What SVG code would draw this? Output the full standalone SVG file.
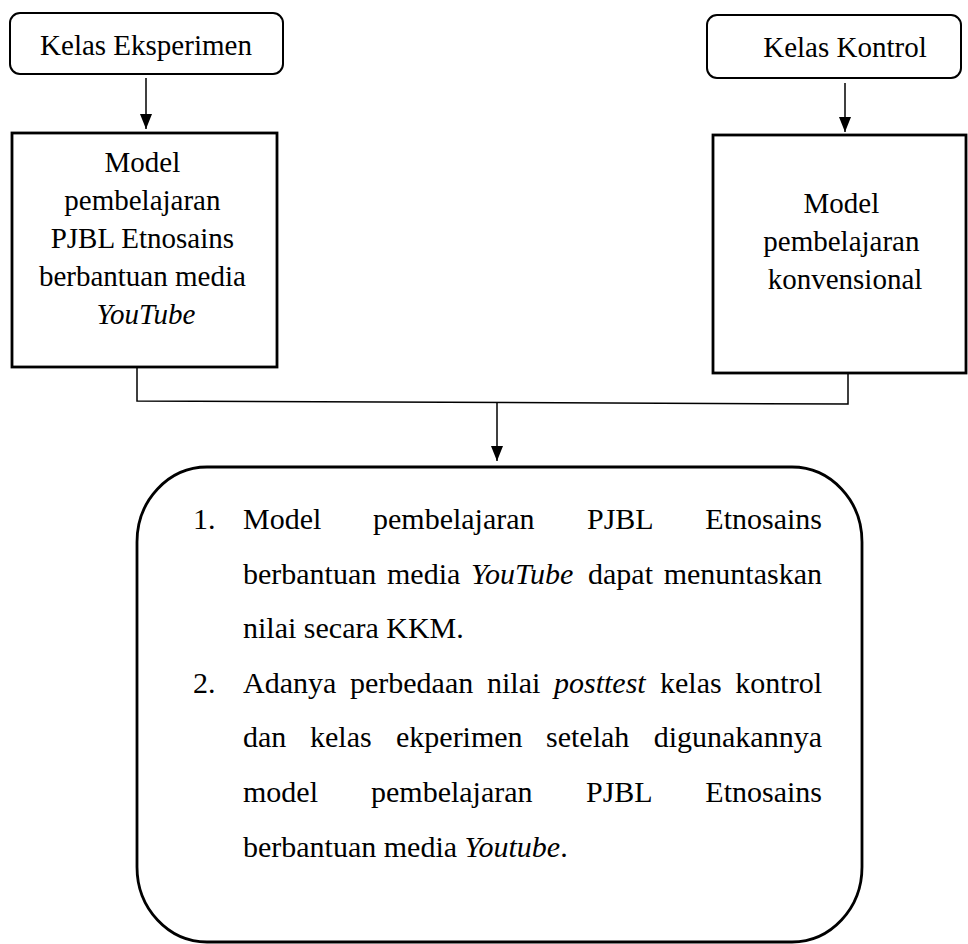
<svg xmlns="http://www.w3.org/2000/svg" width="968" height="944" viewBox="0 0 968 944">
<defs>
<style>
.t{font-family:"Liberation Serif","Times New Roman",serif;font-size:29px;fill:#000}
.b{font-family:"Liberation Serif","Times New Roman",serif;font-size:30px;fill:#000}
.i{font-style:italic}
.rb{fill:#fff;stroke:#000;stroke-width:2}
.sb{fill:#fff;stroke:#000;stroke-width:2.8}
.c{fill:none;stroke:#000;stroke-width:1.5}
</style>
<marker id="ah" viewBox="0 0 15 12" refX="15" refY="6" markerWidth="15" markerHeight="12" markerUnits="userSpaceOnUse" orient="auto">
<path d="M0,0 L15,6 L0,12 Z" fill="#000"/>
</marker>
</defs>
<rect width="968" height="944" fill="#fff"/>
<g id="connectors">
<line class="c" x1="146" y1="78" x2="146" y2="129" marker-end="url(#ah)"/>
<line class="c" x1="845" y1="83" x2="845" y2="132" marker-end="url(#ah)"/>
<path class="c" d="M137,344 L137,401 L848,404 L848,347"/>
<line class="c" x1="497" y1="402" x2="497" y2="461" marker-end="url(#ah)"/>
</g>
<g id="kelas-eksperimen">
<rect class="rb" x="10" y="13" width="273" height="61" rx="10"/>
<text class="t" x="146" y="55" text-anchor="middle">Kelas Eksperimen</text>
</g>
<g id="kelas-kontrol">
<rect class="rb" x="707" y="15" width="254" height="63" rx="10"/>
<text class="t" x="845" y="57" text-anchor="middle">Kelas Kontrol</text>
</g>
<g id="model-pjbl">
<rect class="sb" x="12" y="133" width="265" height="234"/>
<text class="t" text-anchor="middle">
<tspan x="146" y="172">Model</tspan>
<tspan x="146" y="210">pembelajaran</tspan>
<tspan x="146" y="248">PJBL Etnosains</tspan>
<tspan x="146" y="286">berbantuan media</tspan>
<tspan x="146" y="324" class="i">YouTube</tspan>
</text>
</g>
<g id="model-konvensional">
<rect class="sb" x="713" y="135" width="253" height="238"/>
<text class="t" text-anchor="middle">
<tspan x="845" y="213">Model</tspan>
<tspan x="845" y="251">pembelajaran</tspan>
<tspan x="845" y="289">konvensional</tspan>
</text>
</g>
<g id="hasil">
<rect class="sb" x="137" y="467" width="725" height="475" rx="70" ry="75"/>
<text class="b">
<tspan x="193" y="529">1.</tspan>
<tspan x="243" y="529">Model</tspan>
<tspan x="373" y="529">pembelajaran</tspan>
<tspan x="587" y="529">PJBL</tspan>
<tspan x="822" y="529" text-anchor="end">Etnosains</tspan>
</text>
<text class="b">
<tspan x="243" y="584">berbantuan</tspan>
<tspan x="387" y="584">media</tspan>
<tspan x="471" y="584" class="i">YouTube</tspan>
<tspan x="588" y="584">dapat</tspan>
<tspan x="822" y="584" text-anchor="end">menuntaskan</tspan>
</text>
<text class="b" x="243" y="638">nilai secara KKM.</text>
<text class="b">
<tspan x="193" y="693">2.</tspan>
<tspan x="243" y="693">Adanya</tspan>
<tspan x="350" y="693">perbedaan</tspan>
<tspan x="487" y="693">nilai</tspan>
<tspan x="554" y="693" class="i">posttest</tspan>
<tspan x="660" y="693">kelas</tspan>
<tspan x="822" y="693" text-anchor="end">kontrol</tspan>
</text>
<text class="b">
<tspan x="243" y="747">dan</tspan>
<tspan x="310" y="747">kelas</tspan>
<tspan x="396" y="747">ekperimen</tspan>
<tspan x="546" y="747">setelah</tspan>
<tspan x="822" y="747" text-anchor="end">digunakannya</tspan>
</text>
<text class="b">
<tspan x="243" y="802">model</tspan>
<tspan x="371" y="802">pembelajaran</tspan>
<tspan x="586" y="802">PJBL</tspan>
<tspan x="822" y="802" text-anchor="end">Etnosains</tspan>
</text>
<text class="b" x="243" y="857">berbantuan media <tspan class="i">Youtube</tspan>.</text>
</g>
</svg>
